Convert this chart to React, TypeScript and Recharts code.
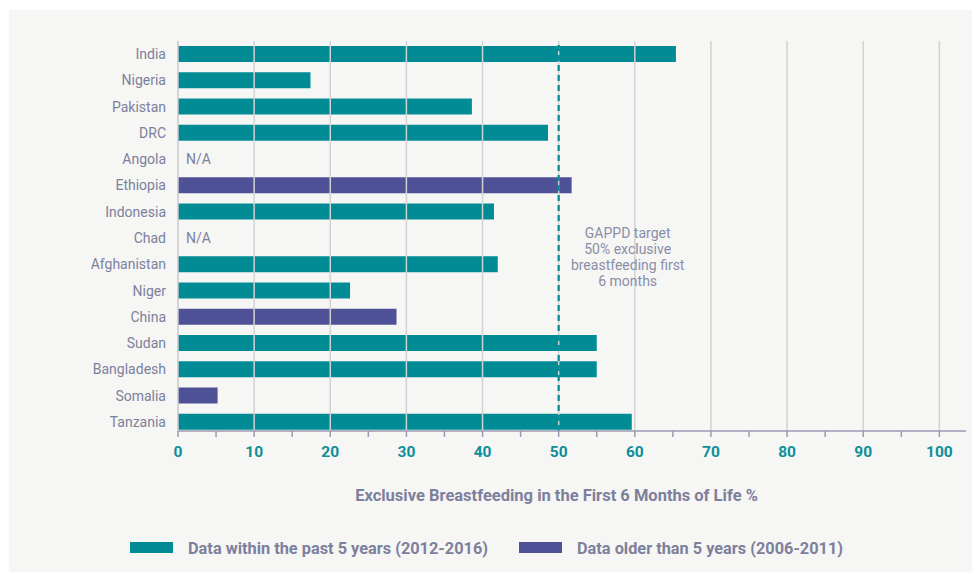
import { BarChart, Bar, XAxis, YAxis, ReferenceLine } from 'recharts'

const countries = [
  'India', 'Nigeria', 'Pakistan', 'DRC', 'Angola', 'Ethiopia', 'Indonesia', 'Chad',
  'Afghanistan', 'Niger', 'China', 'Sudan', 'Bangladesh', 'Somalia', 'Tanzania',
]
// within past 5 years (2012-2016)
const recentValues = [65.4, 17.4, 38.6, 48.6, null, null, 41.5, null, 42, 22.6, null, 55, 55, null, 59.6]
// older than 5 years (2006-2011)
const olderValues = [null, null, null, null, null, 51.7, null, null, null, null, 28.7, null, null, 5.2, null]
const naCountries = ['Angola', 'Chad']

const xTicks = [0, 5, 10, 15, 20, 25, 30, 35, 40, 45, 50, 55, 60, 65, 70, 75, 80, 85, 90, 95, 100]
const gridLines = [10, 20, 30, 40, 50, 60, 70, 80, 90, 100]
const targetValue = 50
const targetLines = ['GAPPD target', '50% exclusive', 'breastfeeding first', '6 months']

const TEAL = '#008b95'
const PURPLE = '#4e5196'
const GREY_TEXT = '#7d809c'

const data = countries.map((c, i) => ({
  country: c,
  recent: recentValues[i],
  older: olderValues[i],
}))

function CountryTick(props: any) {
  const { x, y, payload } = props
  const na = naCountries.includes(payload.value)
  return (
    <g>
      <text x={x} y={y} dy={5} textAnchor="end" fill={GREY_TEXT} fontSize={14}>
        {payload.value}
      </text>
      {na && (
        <text x={x + 20} y={y} dy={5} fill={GREY_TEXT} fontSize={14}>
          N/A
        </text>
      )}
    </g>
  )
}

function ValueTick(props: any) {
  const { x, y, payload } = props
  if (payload.value % 10 !== 0) return <g />
  return (
    <text x={x} y={y} dy="0.71em" textAnchor="middle" fill="#0b8f99" fontSize={15.5} fontWeight={700}>
      {payload.value}
    </text>
  )
}

function TargetLabel(props: any) {
  const { viewBox } = props
  const cx = viewBox.x + 69
  return (
    <text textAnchor="middle" fill="#8a8ea8" fontSize={14}>
      {targetLines.map((t, i) => (
        <tspan key={t} x={cx} y={228 + i * 16}>
          {t}
        </tspan>
      ))}
    </text>
  )
}

export default function App() {
  return (
    <div
      style={{
        position: 'relative',
        left: 1,
        top: 2,
        width: 971,
        height: 564,
        background: '#f6f6f4',
        fontFamily: 'Roboto, sans-serif',
      }}
    >
      <BarChart
        width={971}
        height={564}
        data={data}
        layout="vertical"
        margin={{ top: 31, right: 14, bottom: 113, left: 0 }}
        barSize={16}
      >
        <XAxis
          type="number"
          domain={[0, 103.5]}
          ticks={xTicks}
          interval={0}
          height={30}
          axisLine={{ stroke: '#9a9bb2', strokeWidth: 1.5 }}
          tickLine={{ stroke: '#9a9bb2', strokeWidth: 1.5 }}
          tickSize={6}
          tickMargin={9}
          tick={<ValueTick />}
        />
        <YAxis
          type="category"
          dataKey="country"
          width={169}
          padding={{ top: 0, bottom: -4 }}
          axisLine={{ stroke: '#c8c8cc', strokeWidth: 1.5 }}
          tickLine={false}
          tickSize={0}
          tickMargin={12}
          interval={0}
          tick={<CountryTick />}
        />
        {gridLines.map((g) => (
          <ReferenceLine key={g} x={g} stroke="#d2d2d2" strokeWidth={1.5} />
        ))}
        <Bar dataKey="recent" stackId="a" fill={TEAL} isAnimationActive={false} />
        <Bar dataKey="older" stackId="a" fill={PURPLE} isAnimationActive={false} />
        <ReferenceLine
          x={targetValue}
          stroke={TEAL}
          strokeWidth={2.2}
          strokeDasharray="6 4"
          label={<TargetLabel />}
        />
      </BarChart>
      <div
        style={{
          position: 'absolute',
          left: 0,
          width: 1095,
          top: 476,
          textAlign: 'center',
          fontWeight: 700,
          fontSize: 16.5,
          color: GREY_TEXT,
        }}
      >
        Exclusive Breastfeeding in the First 6 Months of Life %
      </div>
      <svg
        width={760}
        height={24}
        style={{ position: 'absolute', left: 121, top: 529 }}
        fontFamily="Roboto, sans-serif"
        fontWeight={700}
        fontSize={16.5}
      >
        <rect x={0} y={3} width={43} height={11} fill={TEAL} />
        <text x={58} y={15} fill={GREY_TEXT} textLength={300} lengthAdjust="spacingAndGlyphs">
          Data within the past 5 years (2012-2016)
        </text>
        <rect x={389} y={3} width={43} height={11} fill={PURPLE} />
        <text x={447} y={15} fill={GREY_TEXT} textLength={266} lengthAdjust="spacingAndGlyphs">
          Data older than 5 years (2006-2011)
        </text>
      </svg>
    </div>
  )
}
